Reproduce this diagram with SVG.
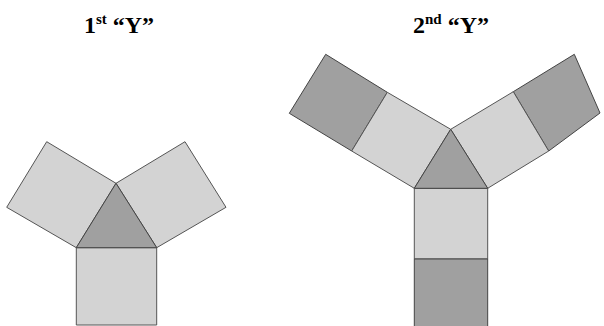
<svg xmlns="http://www.w3.org/2000/svg" width="604" height="326" viewBox="0 0 604 326">
<style>
.l{fill:#d3d3d3;stroke:#555;stroke-width:1;stroke-linejoin:miter}
.d{fill:#a0a0a0;stroke:#444;stroke-width:1}
.t{font-family:"Liberation Serif","Times New Roman",serif;font-weight:bold;font-size:24px;fill:#000}
.s{font-size:15px}
</style>
<rect width="604" height="326" fill="#fff"/>
<g id="title1"><text class="t" x="119" y="33" text-anchor="middle">1<tspan class="s" dy="-9">st</tspan><tspan dy="9"> “Y”</tspan></text></g>
<g id="title2"><text class="t" x="451" y="33" text-anchor="middle">2<tspan class="s" dy="-9">nd</tspan><tspan dy="9"> “Y”</tspan></text></g>
<g id="y1">
<polygon id="y1-left" class="l" points="76.3,247.7 116,183.3 46.7,141.7 6.7,207.3"/>
<polygon id="y1-right" class="l" points="156.7,247.7 116,183.3 185,141.7 226,207.3"/>
<polygon id="y1-bottom" class="l" points="76.3,247.7 156.7,247.7 156.7,325 76.3,325"/>
<polygon id="y1-tri" class="d" points="116,183.3 76.3,247.7 156.7,247.7"/>
</g>
<g id="y2">
<polygon id="y2-left-outer" class="d" points="387.3,92.3 351.7,151 289.3,113.3 325.7,54.3"/>
<polygon id="y2-left-inner" class="l" points="414.3,188.3 450.7,129.3 387.3,92.3 351.7,151"/>
<polygon id="y2-right-outer" class="d" points="513.3,91.7 548.7,151 600,113 574.3,54.3"/>
<polygon id="y2-right-inner" class="l" points="487.7,188.3 450.7,129.3 513.3,91.7 548.7,151"/>
<polygon id="y2-bottom-inner" class="l" points="414.3,188.3 487.7,188.3 487.7,259 414.3,259"/>
<polygon id="y2-bottom-outer" class="d" points="414.3,259 487.7,259 487.7,328 414.3,328"/>
<polygon id="y2-tri" class="d" points="450.7,129.3 414.3,188.3 487.7,188.3"/>
</g>
</svg>
